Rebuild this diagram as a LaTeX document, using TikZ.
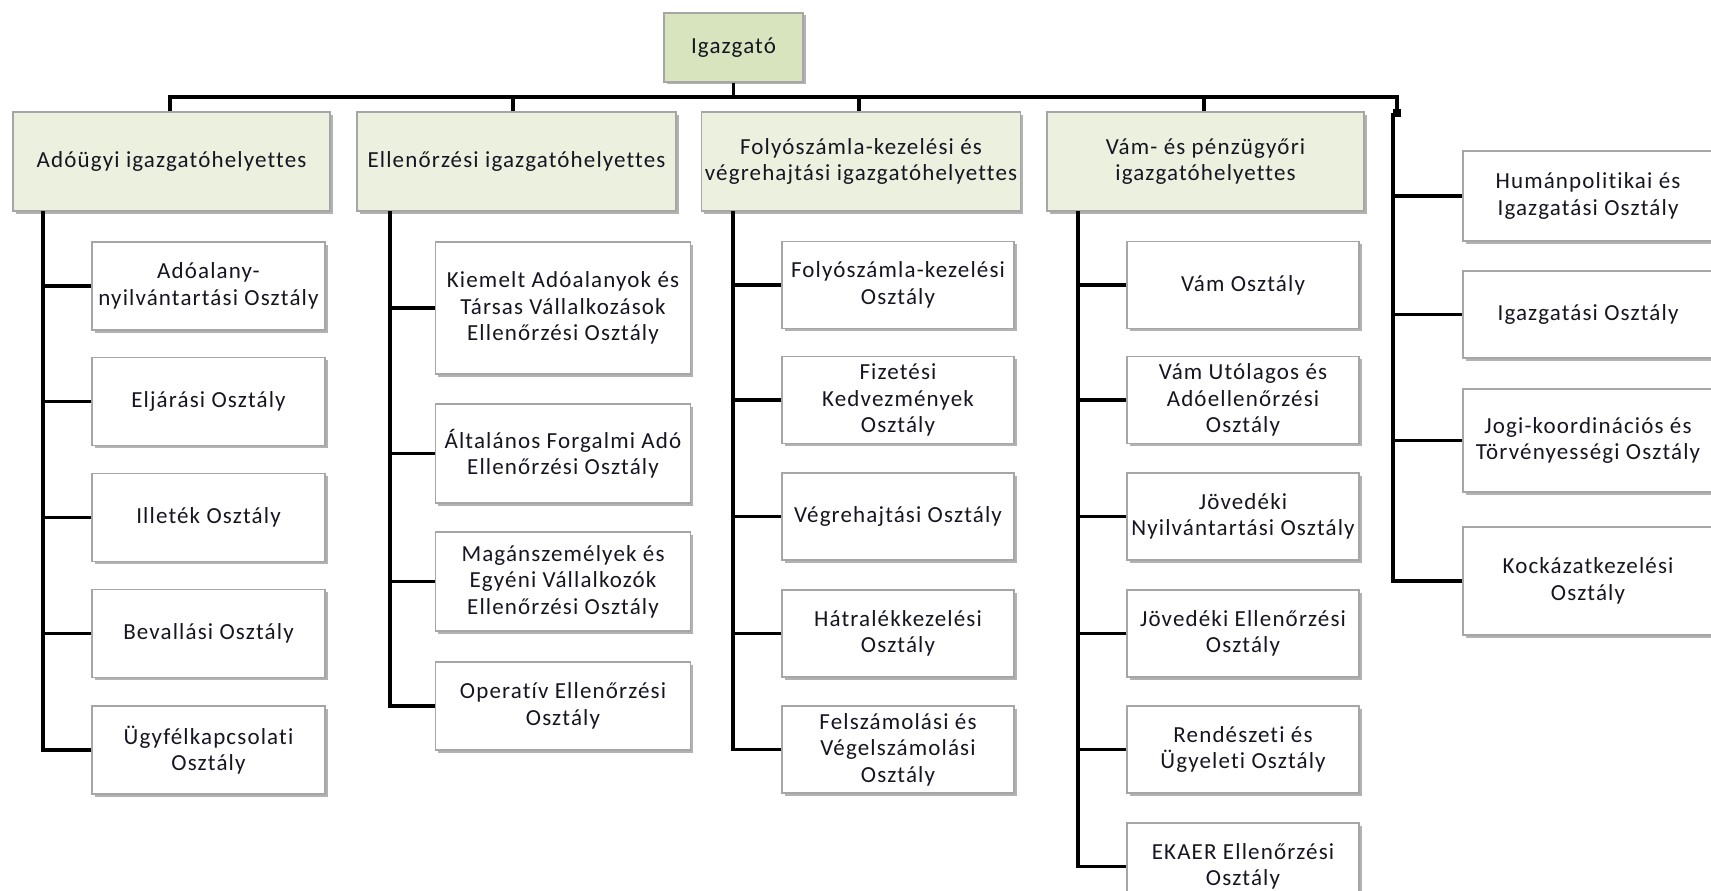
\documentclass[tikz,border=0pt]{standalone}
\usepackage{fontspec}
\setmainfont{Carlito}[LetterSpace=5, Ligatures={NoCommon,NoRequired,NoContextual}]
\usetikzlibrary{shadows}
\definecolor{topfill}{HTML}{D7E4BD}
\definecolor{depfill}{HTML}{EBF1DE}
\definecolor{boxline}{HTML}{A6A6A6}
\definecolor{txt}{HTML}{161622}
\tikzset{
  box/.style={draw=boxline, line width=1.3pt, align=center, inner sep=2pt,
    font=\fontsize{23}{26.5}\selectfont, text=txt,
    drop shadow={shadow xshift=2.5pt, shadow yshift=-2.5pt, opacity=0.3, fill=black}},
  sub/.style={box, fill=white},
  dep/.style={box, fill=depfill},
  topbox/.style={box, fill=topfill},
  wh/.style n args={2}{minimum width=#1pt, minimum height=#2pt},
  conn/.style={line width=3.2pt, black}
}
\begin{document}
\begin{tikzpicture}[x=1pt,y=-1pt]
\useasboundingbox[fill=white] (0,0) rectangle (1711,891);

% top
\node[topbox, wh={139}{69}] (ig) at (733.5,47.5) {Igazgató};

% deputies
\node[dep, wh={317}{99}] (h1) at (171.5,161.5) {Adóügyi igazgatóhelyettes};
\node[dep, wh={319}{99}] (h2) at (516.5,161.5) {Ellenőrzési igazgatóhelyettes};
\node[dep, wh={319}{99}] (h3) at (861,161.5) {Folyószámla-kezelési és\\végrehajtási igazgatóhelyettes};
\node[dep, wh={317}{99}] (h4) at (1205.5,161.5) {Vám- és pénzügyőri\\igazgatóhelyettes};

% column 1
\node[sub, wh={233}{88}] (a1) at (208.5,286) {Adóalany-\\nyilvántartási Osztály};
\node[sub, wh={233}{88}] (a2) at (208.5,401.5) {Eljárási Osztály};
\node[sub, wh={233}{88}] (a3) at (208.5,517.5) {Illeték Osztály};
\node[sub, wh={233}{88}] (a4) at (208.5,633.5) {Bevallási Osztály};
\node[sub, wh={233}{88}] (a5) at (208.5,750) {Ügyfélkapcsolati\\Osztály};

% column 2
\node[sub, wh={255}{132}] (b1) at (563,308) {Kiemelt Adóalanyok és\\Társas Vállalkozások\\Ellenőrzési Osztály};
\node[sub, wh={255}{99}] (b2) at (563,453.5) {Általános Forgalmi Adó\\Ellenőrzési Osztály};
\node[sub, wh={255}{99}] (b3) at (563,581.5) {Magánszemélyek és\\Egyéni Vállalkozók\\Ellenőrzési Osztály};
\node[sub, wh={255}{88}] (b4) at (563,706) {Operatív Ellenőrzési\\Osztály};

% column 3
\node[sub, wh={232}{87}] (c1) at (898,285) {Folyószámla-kezelési\\Osztály};
\node[sub, wh={232}{87}] (c2) at (898,400) {Fizetési\\Kedvezmények\\Osztály};
\node[sub, wh={232}{87}] (c3) at (898,516.5) {Végrehajtási Osztály};
\node[sub, wh={232}{87}] (c4) at (898,633.5) {Hátralékkezelési\\Osztály};
\node[sub, wh={232}{87}] (c5) at (898,749.5) {Felszámolási és\\Végelszámolási\\Osztály};

% column 4
\node[sub, wh={232}{87}] (d1) at (1243,285) {Vám Osztály};
\node[sub, wh={232}{87}] (d2) at (1243,400) {Vám Utólagos és\\Adóellenőrzési\\Osztály};
\node[sub, wh={232}{87}] (d3) at (1243,516.5) {Jövedéki\\Nyilvántartási Osztály};
\node[sub, wh={232}{87}] (d4) at (1243,633.5) {Jövedéki Ellenőrzési\\Osztály};
\node[sub, wh={232}{87}] (d5) at (1243,749.5) {Rendészeti és\\Ügyeleti Osztály};
\node[sub, wh={232}{87}] (d6) at (1243,866.5) {EKAER Ellenőrzési\\Osztály};

% column 5
\node[sub, wh={250}{90}] (e1) at (1588,196) {Humánpolitikai és\\Igazgatási Osztály};
\node[sub, wh={250}{87}] (e2) at (1588,314.5) {Igazgatási Osztály};
\node[sub, wh={250}{103}] (e3) at (1588,440.5) {Jogi-koordinációs és\\Törvényességi Osztály};
\node[sub, wh={250}{108}] (e4) at (1588,581) {Kockázatkezelési\\Osztály};

% connector coordinates
\coordinate (bar) at (0,97);
\coordinate (rc) at (1397,113);
\coordinate (t1) at (43,211);
\coordinate (t2) at (390,211);
\coordinate (t3) at (733,211);
\coordinate (t4) at (1078,211);
\coordinate (t5) at (1393,113);

% top bar
\draw[conn] (ig.south) -- (ig.south |- bar);
\draw[conn] (h1.north -| 170,0) |- (rc |- bar) -- (rc);
\fill (1393,109) rectangle (1401,117);
\draw[conn] (h2.north -| 513,0) -- (513,97);
\draw[conn] (h3.north -| 859,0) -- (859,97);
\draw[conn] (h4.north -| 1204,0) -- (1204,97);

% column trunks
\foreach \n in {a1,a2,a3,a4,a5} \draw[conn] (t1) |- (\n.west);
\foreach \n in {b1,b2,b3,b4} \draw[conn] (t2) |- (\n.west);
\foreach \n in {c1,c2,c3,c4,c5} \draw[conn] (t3) |- (\n.west);
\foreach \n in {d1,d2,d3,d4,d5,d6} \draw[conn] (t4) |- (\n.west);
\foreach \n in {e1,e2,e3,e4} \draw[conn] (t5) |- (\n.west);
\end{tikzpicture}
\end{document}
